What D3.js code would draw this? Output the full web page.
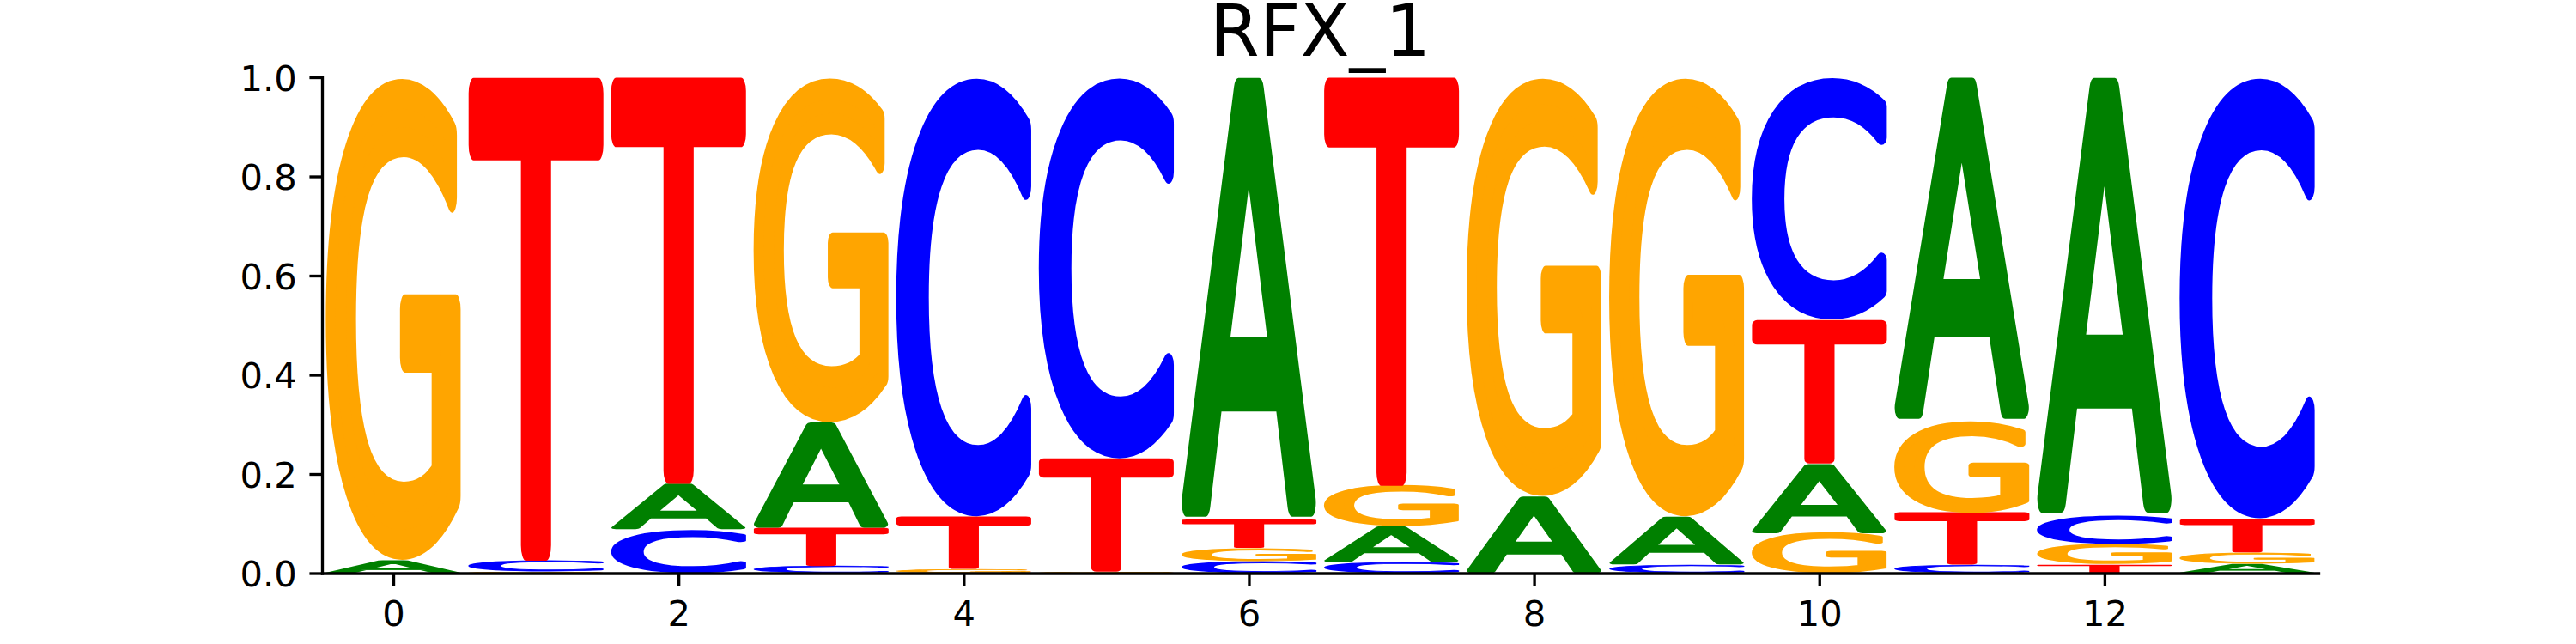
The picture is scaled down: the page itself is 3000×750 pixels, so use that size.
<!DOCTYPE html>
<html><head><meta charset="utf-8">
<script src="https://cdn.jsdelivr.net/npm/d3@7"></script>
<style>body{margin:0;background:#fff} svg{display:block}</style>
</head><body>
<svg id="chart" width="3000" height="750"></svg>
<script>
// ---- data ----
const chartTitle = "RFX_1";
const bases = ["A", "C", "G", "T"];
const positions = [0, 1, 2, 3, 4, 5, 6, 7, 8, 9, 10, 11, 12, 13];
const probA = [0.026, 0.000, 0.092, 0.212, 0.000, 0.000, 0.892, 0.072, 0.155, 0.096, 0.141, 0.693, 0.884, 0.019];
const probC = [0.000, 0.022, 0.088, 0.014, 0.886, 0.769, 0.024, 0.023, 0.000, 0.018, 0.489, 0.016, 0.057, 0.890];
const probG = [0.974, 0.003, 0.000, 0.696, 0.008, 0.003, 0.027, 0.081, 0.845, 0.886, 0.081, 0.186, 0.042, 0.023];
const probT = [0.000, 0.975, 0.820, 0.078, 0.106, 0.228, 0.057, 0.824, 0.000, 0.000, 0.289, 0.105, 0.017, 0.068];
const baseColors = ["#008000", "#0000ff", "#ffa500", "#ff0000"];
const yTicks = [0, 0.2, 0.4, 0.6, 0.8, 1.0];
const xTicks = [0, 2, 4, 6, 8, 10, 12];

// ---- layout ----
const plotL = 375, plotR = 2700, plotT = 90, plotB = 667.5;
const svg = d3.select("#chart");
const x = d3.scaleLinear().domain([-0.5, 13.5]).range([plotL, plotR]);
const y = d3.scaleLinear().domain([0, 1]).range([plotB, plotT]);
const FONT = "DejaVu Sans";

// ---- glyph metrics ----
const FS = 200, SW = 10;
const ctx = document.createElement("canvas").getContext("2d");
ctx.font = `${FS}px "${FONT}"`;
const metrics = {};
bases.forEach(b => {
  const m = ctx.measureText(b);
  metrics[b] = {l: -m.actualBoundingBoxLeft, r: m.actualBoundingBoxRight,
                t: -m.actualBoundingBoxAscent, b: m.actualBoundingBoxDescent};
});

// ---- stacks ----
const series = [probA, probC, probG, probT];
const glyphs = [];
positions.forEach((p, i) => {
  const vals = bases.map((b, k) => ({b, v: series[k][i], c: baseColors[k], pos: p}))
    .filter(d => d.v > 0).sort((a, b) => a.v - b.v);
  let floor = 0;
  vals.forEach(d => { d.floor = floor; d.ceil = floor + d.v; floor = d.ceil; });
  glyphs.push(...vals);
});

const gG = svg.append("g");
gG.selectAll("text").data(glyphs).join("text")
  .attr("font-family", FONT)
  .attr("font-size", FS)
  .attr("fill", d => d.c)
  .attr("stroke", d => d.c)
  .attr("stroke-width", SW)
  .attr("stroke-linejoin", "round")
  .attr("transform", d => {
    const m = metrics[d.b];
    const x0 = x(d.pos - 0.475), x1 = x(d.pos + 0.475);
    const yt = y(d.ceil), yb = y(d.floor);
    const gw = m.r - m.l + SW, gh = m.b - m.t + SW;
    return `translate(${x0},${yt}) scale(${(x1 - x0) / gw},${(yb - yt) / gh}) translate(${-(m.l - SW / 2)},${-(m.t - SW / 2)})`;
  })
  .text(d => d.b);

// ---- axes ----
const fs = 41.67, tick = 14.58, lw = 3.33;
const yAxis = svg.append("g").attr("transform", `translate(${plotL},0)`)
  .call(d3.axisLeft(y).tickValues(yTicks).tickFormat(d3.format(".1f"))
    .tickSize(tick).tickSizeOuter(0).tickPadding(tick));
const xAxis = svg.append("g").attr("transform", `translate(0,${plotB})`)
  .call(d3.axisBottom(x).tickValues(xTicks).tickFormat(d3.format("d"))
    .tickSize(tick).tickSizeOuter(0).tickPadding(tick));
[yAxis, xAxis].forEach(a => {
  a.select(".domain").attr("stroke", "#000").attr("stroke-width", lw).attr("stroke-linecap", "square");
  a.selectAll(".tick line").attr("stroke", "#000").attr("stroke-width", lw);
  a.selectAll(".tick text").attr("fill", "#000").attr("font-size", fs).attr("font-family", FONT);
});
yAxis.selectAll(".tick text").attr("dy", "0.365em");
xAxis.selectAll(".tick text").attr("dy", "0.787em");

svg.append("text").attr("x", (plotL + plotR) / 2).attr("y", 65)
  .attr("text-anchor", "middle").attr("font-family", FONT).attr("font-size", 83.3)
  .attr("fill", "#000").text(chartTitle);
</script>
</body></html>
